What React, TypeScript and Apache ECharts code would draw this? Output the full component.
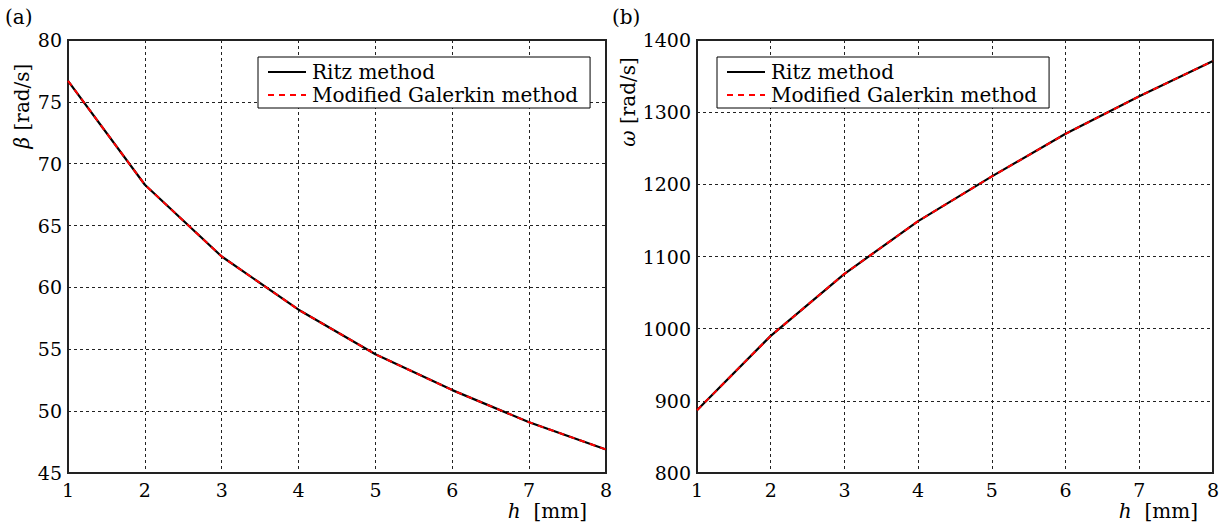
import React, { useEffect, useRef } from "react";
import * as echarts from "echarts";

const hValues = [1, 2, 3, 4, 5, 6, 7, 8];
const betaRitz = [76.7, 68.3, 62.5, 58.2, 54.6, 51.7, 49.1, 46.9];
const betaGalerkin = [76.7, 68.3, 62.5, 58.2, 54.6, 51.7, 49.1, 46.9];
const omegaRitz = [887, 990, 1076, 1149, 1211, 1270, 1322, 1371];
const omegaGalerkin = [887, 990, 1076, 1149, 1211, 1270, 1322, 1371];
const seriesNames = ["Ritz method", "Modified Galerkin method"];

const FONT = "DejaVu Serif";

export default function App() {
  const ref = useRef<HTMLDivElement>(null);
  useEffect(() => {
    if (!ref.current) return;
    const chart = echarts.init(ref.current, null, { renderer: "svg" });
    const pair = (xs: number[], ys: number[]) => xs.map((x, i) => [x, ys[i]]);
    const axisLabel = {
      color: "#000",
      fontFamily: FONT,
      fontSize: 19,
      margin: 6,
      formatter: (v: number) => String(v),
    };
    const splitLine = { show: true, lineStyle: { color: "#222", type: [3, 3], width: 1 } };
    const xAxisBase = {
      type: "value",
      min: 1,
      max: 8,
      interval: 1,
      axisLine: { show: false },
      axisTick: { show: false },
      splitLine,
      axisLabel: { ...axisLabel, margin: 7 },
    };
    const legendBase = {
      orient: "vertical",
      data: seriesNames,
      borderColor: "#000",
      borderWidth: 1,
      borderRadius: 0,
      backgroundColor: "#fff",
      padding: [5, 12, 3, 9],
      itemGap: 3,
      itemWidth: 38,
      itemHeight: 20,
      itemStyle: { opacity: 0 },
      textStyle: { fontFamily: FONT, fontSize: 20, color: "#000", padding: [0, 0, 0, 1] },
    };
    const lineS = (name: string, x: number, data: number[][], red: boolean) => ({
      name,
      type: "line",
      xAxisIndex: x,
      yAxisIndex: x,
      data,
      symbol: "none",
      lineStyle: red
        ? { color: "#ff0000", width: 2, type: [6, 5] }
        : { color: "#000", width: 2.2, type: "solid" },
      itemStyle: { color: red ? "#ff0000" : "#000" },
      z: red ? 3 : 2,
    });
    const richItalic = { i: { fontStyle: "italic", fontFamily: FONT, fontSize: 20 } };
    chart.setOption({
      animation: false,
      backgroundColor: "#fff",
      grid: [
        { left: 68, top: 40, width: 538, height: 433, show: true, borderColor: "#222", borderWidth: 2, backgroundColor: "transparent" },
        { left: 697, top: 40, width: 516, height: 433, show: true, borderColor: "#222", borderWidth: 2, backgroundColor: "transparent" },
      ],
      xAxis: [
        { ...xAxisBase, gridIndex: 0 },
        { ...xAxisBase, gridIndex: 1 },
      ],
      yAxis: [
        { type: "value", gridIndex: 0, min: 45, max: 80, interval: 5, axisLine: { show: false }, axisTick: { show: false }, splitLine, axisLabel },
        { type: "value", gridIndex: 1, min: 800, max: 1400, interval: 100, axisLine: { show: false }, axisTick: { show: false }, splitLine, axisLabel },
      ],
      legend: [
        { ...legendBase, left: 258, top: 57 },
        { ...legendBase, left: 717, top: 57 },
      ],
      series: [
        lineS(seriesNames[0], 0, pair(hValues, betaRitz), false),
        lineS(seriesNames[1], 0, pair(hValues, betaGalerkin), true),
        lineS(seriesNames[0], 1, pair(hValues, omegaRitz), false),
        lineS(seriesNames[1], 1, pair(hValues, omegaGalerkin), true),
      ],
      graphic: [
        { type: "text", left: 5, top: 7, style: { text: "(a)", fontFamily: FONT, fontSize: 20, fill: "#000" } },
        { type: "text", left: 612, top: 7, style: { text: "(b)", fontFamily: FONT, fontSize: 20, fill: "#000" } },
        {
          type: "text",
          x: 22,
          y: 106,
          rotation: Math.PI / 2,
          style: {
            text: "{i|β} [rad/s]",
            fontFamily: FONT,
            fontSize: 20,
            fill: "#000",
            align: "center",
            verticalAlign: "middle",
            rich: richItalic,
          },
        },
        {
          type: "text",
          x: 628,
          y: 102,
          rotation: Math.PI / 2,
          style: {
            text: "{i|ω} [rad/s]",
            fontFamily: FONT,
            fontSize: 20,
            fill: "#000",
            align: "center",
            verticalAlign: "middle",
            rich: richItalic,
          },
        },
        {
          type: "text",
          x: 587,
          y: 511,
          style: {
            text: "{i|h}  [mm]",
            fontFamily: FONT,
            fontSize: 20,
            fill: "#000",
            align: "right",
            verticalAlign: "middle",
            rich: richItalic,
          },
        },
        {
          type: "text",
          x: 1198,
          y: 511,
          style: {
            text: "{i|h}  [mm]",
            fontFamily: FONT,
            fontSize: 20,
            fill: "#000",
            align: "right",
            verticalAlign: "middle",
            rich: richItalic,
          },
        },
      ],
    });
    return () => chart.dispose();
  }, []);
  return (
    <div
      ref={ref}
      style={{ position: "absolute", left: 0, top: 0, width: 1228, height: 526 }}
    />
  );
}
